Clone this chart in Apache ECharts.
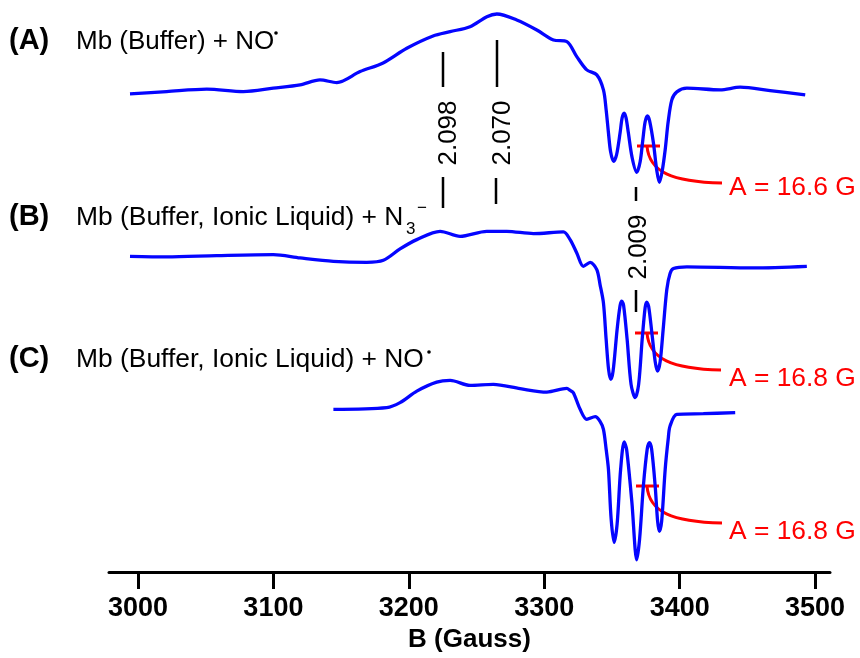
<!DOCTYPE html>
<html><head><meta charset="utf-8">
<script src="https://cdn.jsdelivr.net/npm/echarts@6/dist/echarts.min.js"></script>
<style>html,body{margin:0;padding:0;background:#fff}#c{width:860px;height:658px}</style>
</head><body><div id="c"></div>
<script>
// Magnetic field (G) and stacked intensity (arbitrary units, offset per trace)
const fieldA = [2994.1,3021.2,3050.8,3077.8,3099.9,3119.7,3134.4,3146.8,3164.0,3181.0,3198.5,3217.9,3230.5,3245.2,3257.6,3265.0,3279.7,3294.5,3306.8,3316.7,3324.0,3331.4,3338.8,3343.7,3345.7,3347.4,3349.0,3351.2,3353.4,3356.0,3357.5,3359.0,3360.4,3362.1,3364.9,3368.3,3370.8,3372.8,3374.5,3376.2,3377.8,3380.6,3383.0,3385.0,3387.0,3389.3,3391.5,3394.2,3397.9,3405.3,3429.9,3444.7,3466.8,3492.7];
const intA = [479,481.3,483.7,481.3,484.7,488,493,490.3,501.3,510,524.7,537,541.3,546.3,556.3,559,553,543,533,531.3,516.3,503,498,483,463,440,421,411.3,418,440,455,459.7,455,440,415,400.3,411,433,451,457,452,430,403,390.3,401,423,451,473,481,484.7,483,485.7,482.3,478];

const fieldB = [2994.1,3021.2,3058.1,3099.9,3119.7,3144.3,3168.9,3181.2,3193.5,3205.9,3223.1,3237.8,3257.6,3272.3,3292.0,3314.1,3319.1,3324.0,3328.9,3333.9,3338.8,3341.2,3343.7,3345.7,3347.5,3349.1,3350.8,3353.8,3356.0,3357.3,3358.6,3361.2,3364.1,3367.1,3369.7,3372.3,3374.5,3375.7,3377.1,3379.6,3381.9,3383.6,3385.6,3387.8,3390.5,3392.9,3395.4,3405.3,3454.5,3493.9];
const intB = [316.3,315.7,317,318,314.7,311.3,310.3,312.3,323.7,333,341.3,336.3,341.3,341.3,339,340.7,333,319.7,306.3,310.3,303,288,269.7,233,203,193,201,243,267,271.3,267,233,188,174.7,188,233,265,270.3,266,238,211,201.3,211,243,283,299,304,305.7,304.7,306.3];

const fieldC = [3144.3,3183.7,3193.5,3205.9,3220.6,3230.5,3245.2,3262.4,3282.2,3301.9,3316.7,3319.1,3321.5,3326.5,3331.4,3337.6,3341.2,3343.7,3345.7,3347.4,3349.4,3351.6,3353.8,3356.4,3359.0,3360.8,3364.7,3368.3,3370.4,3373.2,3376.0,3377.7,3379.3,3381.9,3383.7,3385.0,3386.7,3389.3,3391.5,3392.9,3397.9,3417.5,3441.0];
const intC = [163,164.7,169.7,181.3,190.3,192,187,188,183.7,180.3,184,182,179.7,163,153,155.7,151,143,123,103,53,29.7,48,103,130.3,123,70,12.3,33,86.3,123,129.7,123,86.3,51,40.7,51,103,133,146.3,158,158.7,159.7];

const tickValues = [3000,3100,3200,3300,3400,3500];
const gLabels = ['2.098','2.070','2.009'];
const hfLabels = ['A = 16.6 G','A = 16.8 G','A = 16.8 G'];
const panelTags = ['(A)','(B)','(C)'];

const zip = (xs, ys) => xs.map((x, i) => [x, ys[i]]);
const BLUE = '#0505ff', RED = '#ff0000';
const FF = '"Liberation Sans", Arial, sans-serif';

function spec(name, xs, ys) {
  return { name, type: 'line', data: zip(xs, ys), showSymbol: false, smooth: 0.3,
    lineStyle: { color: BLUE, width: 3.3 }, silent: true, animation: false, z: 3 };
}

const txt = (x, y, t, o) => ({ type: 'text', x, y, silent: true,
  style: Object.assign({ text: t, fill: '#000', font: '26px ' + FF, verticalAlign: 'middle' }, o || {}) });
const dot = (x, y) => ({ type: 'circle', silent: true, shape: { cx: x, cy: y, r: 1.8 }, style: { fill: '#000' } });
const seg = (x1, y1, x2, y2, c, w) => ({ type: 'line', silent: true,
  shape: { x1, y1, x2, y2 }, style: { stroke: c || '#000', lineWidth: w || 2.5 } });
const curve = (x1, y1, c1x, c1y, c2x, c2y, x2, y2) => ({ type: 'bezierCurve', silent: true,
  shape: { x1, y1, cpx1: c1x, cpy1: c1y, cpx2: c2x, cpy2: c2y, x2, y2 },
  style: { stroke: RED, lineWidth: 3, fill: null } });
const rot = (x, y, t) => ({ type: 'text', x, y, rotation: Math.PI / 2, silent: true,
  style: { text: t, fill: '#000', font: '26px ' + FF, align: 'center', verticalAlign: 'middle' } });

const graphics = [
  txt(9, 41, panelTags[0], { font: 'bold 29px ' + FF }),
  txt(76, 42, 'Mb (Buffer) + NO'),
  dot(276, 33),
  txt(9, 217, panelTags[1], { font: 'bold 29px ' + FF }),
  txt(76, 218, 'Mb (Buffer, Ionic Liquid) + N', { font: '26.4px ' + FF }),
  txt(406, 229, '3', { font: '17px ' + FF }),
  txt(417, 208, '−', { font: '17px ' + FF }),
  txt(9, 359, panelTags[2], { font: 'bold 29px ' + FF }),
  txt(76, 360, 'Mb (Buffer, Ionic Liquid) + NO', { font: '26.4px ' + FF }),
  dot(429, 352),
  // g-value markers
  seg(443, 52, 443, 87), seg(443, 177, 443, 208), rot(449, 133, gLabels[0]),
  seg(497, 40, 497, 87), seg(496, 178, 496, 204), rot(503, 133, gLabels[1]),
  seg(636, 187, 636, 201), seg(636, 290, 636, 312), rot(638.5, 247, gLabels[2]),
  // hyperfine splitting annotations
  seg(637, 146, 660, 146, RED, 3), curve(647, 146, 649, 172, 672, 182, 722, 183),
  txt(729, 188, hfLabels[0], { fill: RED, font: '26.4px ' + FF }),
  seg(635, 333, 658, 333, RED, 3), curve(647, 333, 649, 359, 672, 369, 721, 370),
  txt(729, 379, hfLabels[1], { fill: RED, font: '26.4px ' + FF }),
  seg(636, 486, 659, 486, RED, 3), curve(647, 486, 649, 512, 672, 522, 722, 523),
  txt(729, 532, hfLabels[2], { fill: RED, font: '26.4px ' + FF })
];

const chart = echarts.init(document.getElementById('c'), null, { renderer: 'canvas' });
chart.setOption({
  animation: false,
  backgroundColor: '#fff',
  grid: { left: 109, right: 30, top: 0, bottom: 85, containLabel: false },
  xAxis: {
    type: 'value', min: 2978.6, max: 3511,
    name: 'B (Gauss)', nameLocation: 'middle', nameGap: 46,
    nameTextStyle: { fontFamily: FF, fontWeight: 'bold', fontSize: 26, color: '#000' },
    axisLine: { show: true, onZero: false, lineStyle: { color: '#000', width: 3 } },
    axisTick: { show: true, customValues: tickValues, length: 17, lineStyle: { color: '#000', width: 3 } },
    axisLabel: { customValues: tickValues, formatter: v => String(v), margin: 23, fontFamily: FF, fontWeight: 'bold', fontSize: 27, color: '#000' },
    splitLine: { show: false }
  },
  yAxis: { type: 'value', min: 0, max: 573, show: false, splitLine: { show: false } },
  series: [spec('A', fieldA, intA), spec('B', fieldB, intB), spec('C', fieldC, intC)],
  graphic: graphics
});
</script></body></html>
